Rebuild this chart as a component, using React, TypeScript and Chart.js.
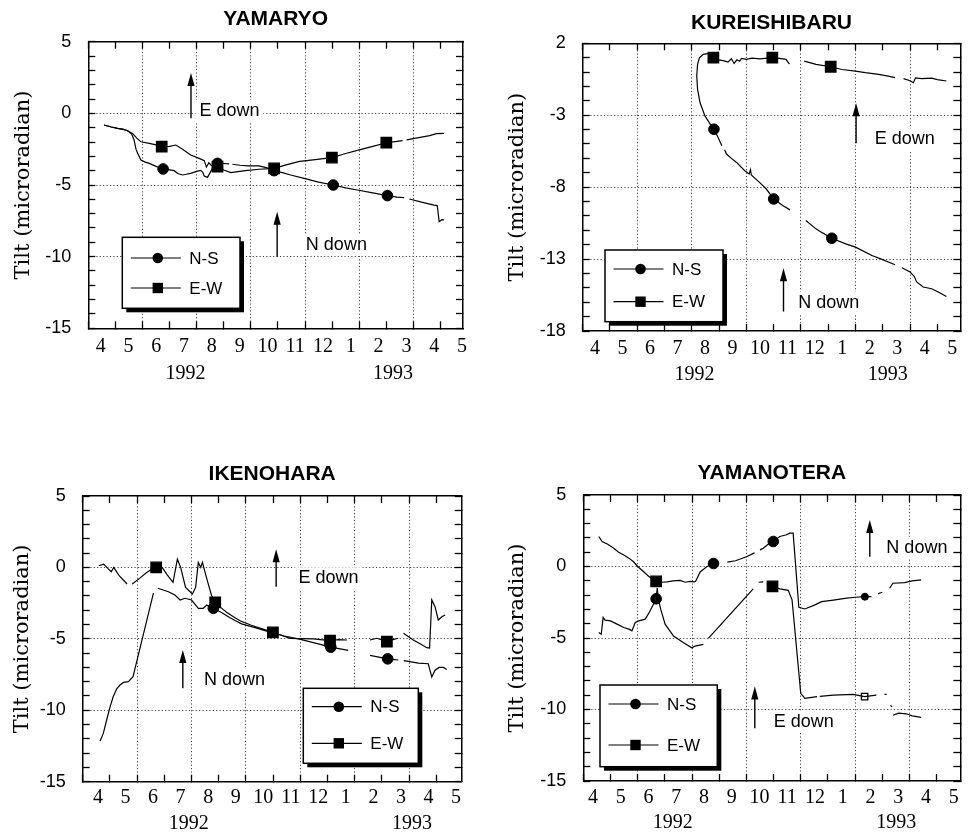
import React, { useEffect, useRef } from 'react';
import { Chart, registerables } from 'chart.js';

Chart.register(...registerables);

type Pt = [number, number] | null;

// x axis: months counted from 1 April 1992 ; y axis: tilt in microradian ; null = gap in record
const MONTH_LABELS = ['4', '5', '6', '7', '8', '9', '10', '11', '12', '1', '2', '3', '4', '5'];
const MONTH_TICKS = [0, 1, 2, 3, 4, 5, 6, 7, 8, 9, 10, 11, 12, 13];
const YEAR_LABELS = ['1992', '1993'];
const SERIES = ['N-S', 'E-W'];
const Y_TITLE = 'Tilt (microradian)';

const YAMARYO_NS: Pt[] = [
  [0.58, -0.81], [0.85, -0.95], [1.08, -1.05], [1.3, -1.12], [1.45, -1.21], [1.6, -1.45], [1.69, -1.86], [1.76, -2.5],
  [1.82, -2.79], [1.94, -3.26], [2.1, -3.4], [2.25, -3.49], [2.5, -3.7], [2.76, -3.88], [3.0, -3.95], [3.17, -4.0],
  [3.3, -4.2], [3.48, -4.3], [3.62, -4.25], [3.78, -4.19], [4.0, -4.05], [4.15, -3.98], [4.22, -4.1], [4.28, -4.37],
  [4.4, -4.47], [4.52, -4.05], [4.65, -3.6], [4.77, -3.49], [5.0, -3.5], [5.2, -3.53], null, [5.32, -3.55], [5.6, -3.62],
  [5.9, -3.67], [6.3, -3.67], [6.6, -3.8], [6.86, -4.0], [7.2, -4.15], [7.47, -4.3], [8.0, -4.55], [8.5, -4.8],
  [9.04, -5.0], [9.5, -5.2], [9.93, -5.35], [10.5, -5.55], [11.04, -5.74], [11.4, -5.85], [11.66, -5.88], null,
  [11.85, -5.98], [12.3, -6.2], [12.76, -6.4], [12.88, -6.44], [12.95, -7.56], [13.05, -7.42], [13.13, -7.44],
];
const YAMARYO_EW: Pt[] = [
  [0.58, -0.81], [0.85, -0.95], [1.08, -1.05], [1.3, -1.12], [1.45, -1.21], [1.63, -1.4], [1.8, -1.75], [1.94, -1.98],
  [2.25, -2.09], [2.5, -2.2], [2.71, -2.33], [3.0, -2.3], [3.23, -2.21], [3.48, -2.51], [3.78, -2.91], [4.09, -3.14],
  [4.28, -3.3], [4.36, -3.75], [4.45, -3.45], [4.55, -3.65], [4.65, -3.7], [4.77, -3.72], [5.0, -3.95], [5.26, -4.14],
  [5.8, -4.0], [6.3, -3.9], [6.86, -3.84], [7.3, -3.6], [7.8, -3.35], [8.3, -3.25], [8.99, -3.09], [9.5, -2.8],
  [10.0, -2.55], [10.5, -2.3], [11.0, -2.05], [11.4, -1.95], [11.6, -1.9], null, [11.75, -1.85], [12.2, -1.7],
  [12.6, -1.55], [12.85, -1.42], [13.13, -1.4],
];
const YAMARYO_NS_MARKS: Pt[] = [[2.76, -3.88], [4.77, -3.49], [6.86, -4.0], [9.04, -5.0], [11.04, -5.74]];
const YAMARYO_EW_MARKS: Pt[] = [[2.71, -2.33], [4.77, -3.72], [6.86, -3.84], [8.99, -3.09], [11.0, -2.05]];

const KUREISHIBARU_NS: Pt[] = [
  [4.64, 1.3], [4.42, 1.23], [4.28, 1.0], [4.21, 0.53], [4.18, -0.27], [4.21, -1.2], [4.3, -2.12], [4.48, -3.05],
  [4.65, -3.55], [4.81, -3.97], [4.95, -4.5], [5.1, -5.12], null, [5.2, -5.4], [5.27, -5.7], [5.45, -6.0], [5.64, -6.28],
  [5.94, -6.86], [6.1, -7.09], [6.15, -6.79], [6.18, -7.16], [6.48, -7.67], [6.73, -8.13], [7.0, -8.82], [7.33, -9.28],
  [7.6, -9.58], null, [8.18, -10.32], [8.55, -10.9], [8.79, -11.18], [9.13, -11.55], [9.64, -11.94], [10.0, -12.17],
  [10.6, -12.75], [10.97, -13.02], [11.45, -13.39], null, [11.7, -13.6], [12.0, -13.9], [12.15, -14.2], [12.24, -14.59],
  [12.48, -14.94], [12.79, -15.06], [13.05, -15.3], [13.33, -15.6],
];
const KUREISHIBARU_EW: Pt[] = [
  [4.67, 1.0], [4.79, 1.0], [4.97, 0.85], [5.15, 0.8], [5.33, 0.7], [5.45, 0.93], [5.55, 0.6], [5.65, 0.85], [5.75, 0.75],
  [5.82, 0.95], [6.0, 0.88], [6.2, 0.97], [6.5, 0.92], [6.95, 1.0], [7.09, 0.99], [7.45, 0.88], [7.58, 0.55], null,
  [8.12, 0.76], [8.55, 0.53], [9.09, 0.37], [9.5, 0.18], [10.0, 0.07], [10.36, -0.04], [10.85, -0.16], [11.2, -0.28],
  [11.45, -0.39], null, [11.76, -0.46], [12.0, -0.6], [12.12, -0.74], [12.2, -0.4], [12.42, -0.46], [12.79, -0.42],
  [13.0, -0.52], [13.33, -0.62],
];
const KUREISHIBARU_NS_MARKS: Pt[] = [[4.81, -3.97], [7.0, -8.82], [9.13, -11.55]];
const KUREISHIBARU_EW_MARKS: Pt[] = [[4.79, 1.0], [6.95, 1.0], [9.09, 0.37]];

const IKENOHARA_NS: Pt[] = [
  [0.64, -12.15], [0.76, -11.6], [0.88, -10.68], [1.0, -9.8], [1.12, -9.05], [1.25, -8.5], [1.37, -8.23], [1.5, -8.05],
  [1.68, -8.0], [1.85, -7.65], [2.6, -1.8], null, [2.76, -1.46], [3.15, -1.7], [3.39, -1.93], [3.58, -2.28], [3.76, -2.16],
  [4.0, -2.28], [4.25, -2.86], [4.43, -2.86], [4.56, -2.63], [4.7, -2.8], [4.8, -2.86], [5.1, -3.15], [5.4, -3.5],
  [5.6, -3.72], [5.84, -3.95], [6.3, -4.2], [6.89, -4.53], [7.4, -4.8], [7.93, -5.0], [8.66, -5.35], [9.12, -5.58],
  [9.76, -5.81], null, [10.56, -6.16], [11.21, -6.4], [11.6, -6.48], null, [11.8, -6.52], [12.34, -6.7], [12.7, -6.74],
  [12.83, -7.67], [12.95, -7.2], [13.1, -7.0], [13.26, -7.0], [13.38, -7.14],
];
const IKENOHARA_EW: Pt[] = [
  [0.59, 0.12], [0.77, 0.23], [0.95, -0.12], [1.05, -0.3], [1.14, 0.0], [1.26, -0.35], [1.35, -0.6], [1.5, -0.9],
  [1.63, -1.16], null, [1.82, -1.16], [2.1, -0.75], [2.35, -0.35], [2.55, -0.12], [2.7, 0.0], [2.92, 0.0], [3.1, -0.5],
  [3.32, -1.05], [3.48, 0.58], [3.6, 0.0], [3.78, -1.4], [4.03, -1.86], [4.15, -1.4], [4.25, 0.35], [4.34, 0.0],
  [4.4, 0.35], [4.58, -0.93], [4.74, -1.98], [4.87, -2.44], [5.1, -2.85], [5.3, -3.15], [5.54, -3.45], [5.8, -3.75],
  [6.2, -4.05], [6.6, -4.3], [6.99, -4.55], [7.3, -4.75], [7.62, -4.96], [8.0, -4.98], [8.48, -5.0], [9.09, -5.13],
  [9.4, -5.05], [9.71, -5.08], null, [10.56, -5.08], [10.81, -4.96], [11.18, -5.2], [11.4, -5.05], [11.6, -4.96], null,
  [11.79, -4.61], [12.15, -5.08], [12.4, -5.35], [12.65, -5.62], [12.75, -5.65], [12.83, -2.28], [12.95, -2.75],
  [13.07, -3.68], [13.2, -3.45], [13.32, -3.33],
];
const IKENOHARA_NS_MARKS: Pt[] = [[4.8, -2.86], [9.12, -5.58], [11.21, -6.4]];
const IKENOHARA_EW_MARKS: Pt[] = [[2.7, 0.0], [4.87, -2.44], [6.99, -4.55], [9.09, -5.13], [11.18, -5.2]];

const YAMANOTERA_NS: Pt[] = [
  [0.57, -4.62], [0.66, -4.74], [0.73, -3.56], [0.8, -3.75], [1.0, -3.8], [1.24, -4.03], [1.49, -4.27], [1.7, -4.4],
  [1.79, -4.5], [1.91, -3.92], [2.04, -3.8], [2.28, -3.68], [2.46, -3.09], [2.68, -2.26], [2.72, -1.5], [2.76, -2.3],
  [2.85, -3.0], [3.01, -4.03], [3.32, -4.86], [3.69, -5.33], [3.99, -5.68], [4.11, -5.57], [4.42, -5.45], null,
  [4.11, -1.08], [4.15, -0.97], [4.3, -0.38], [4.54, -0.02], [4.79, 0.21], [4.95, 0.26], null, [5.3, 0.3], [5.6, 0.4],
  [6.0, 0.68], [6.3, 0.95], null, [6.5, 1.16], [6.62, 1.27], [6.8, 1.55], [6.99, 1.75], [7.23, 2.1], [7.45, 2.2],
  [7.6, 2.33], [7.72, 2.33], [7.93, -2.85], [8.15, -2.97], [8.5, -2.7], [8.77, -2.46], [9.2, -2.35], [9.63, -2.23],
  [10.0, -2.15], [10.36, -2.11], [10.6, -2.11], null, [10.85, -1.9], [11.0, -1.8], null, [11.27, -1.52], [11.39, -1.17],
  [11.82, -1.13], [12.1, -1.0], [12.43, -0.94],
];
const YAMANOTERA_EW: Pt[] = [
  [0.57, 2.1], [0.69, 1.75], [0.9, 1.55], [1.12, 1.27], [1.3, 1.0], [1.49, 0.8], [1.7, 0.55], [1.85, 0.33], [2.0, 0.0],
  [2.16, -0.26], [2.4, -0.68], [2.68, -1.04], [2.9, -1.1], [3.08, -1.08], [3.3, -1.0], [3.56, -0.97], [3.75, -1.1],
  [3.93, -1.04], [4.11, -1.08], null, [4.6, -5.02], [6.25, -1.56], null, [6.45, -1.1], [6.62, -1.08], null, [6.75, -1.2],
  [6.96, -1.39], [7.23, -1.56], [7.54, -1.67], [7.68, -2.33], [8.0, -8.87], [8.15, -9.22], [8.6, -9.1], null,
  [8.7, -9.08], [9.2, -9.0], [9.92, -8.94], [10.35, -9.1], [10.78, -8.99], null, [11.08, -8.94], [11.16, -8.94], null,
  [11.3, -9.72], [11.36, -9.8], null, [11.39, -10.4], [11.6, -10.25], [11.88, -10.3], [12.1, -10.45], [12.43, -10.55],
];
const YAMANOTERA_NS_MARKS: Pt[] = [[2.68, -2.26], [4.79, 0.21], [6.99, 1.75], [10.36, -2.11]];
const YAMANOTERA_EW_MARKS: Pt[] = [[2.68, -1.04], [6.96, -1.39], [10.35, -9.1]];

const SANS = '"Liberation Sans", Arial, sans-serif';
const SERIF = '"Liberation Serif", "Times New Roman", serif';
const TITLE_SERIF = '"DejaVu Serif", serif';
const GRID = '#444';
const TICK_LEN = -7;

type Note = { text: string; arrowX: number; tail: number; tip: number; textX: number; textY: number };

const PLOTS = [
  {
    title: 'YAMARYO', cx: 0, cy: 0, cw: 484, ch: 418, left: 88.3, padRight: 21, titlePad: { top: 6.2, bottom: 10.3 },
    yMin: -15, yMax: 5, xMax: 13.83, labelMin: -0.446, labelMax: 13.036, monthPad: 6.5, monthH: 27, yearPad: 6.5,
    yearH: 62.7, yearPos: [3.59, 11.25], yTitlePad: 11.4,
    ns: YAMARYO_NS, ew: YAMARYO_EW, nsMarks: YAMARYO_NS_MARKS, ewMarks: YAMARYO_EW_MARKS, smallNs: [] as number[], smallEw: [] as number[],
    legend: { dx: 34, dy: 195.6, w: 117.7, h: 71, rows: [20.7, 50.7] },
    notes: [
      { text: 'E down', arrowX: 3.79, tail: -0.35, tip: 2.82, textX: 4.1, textY: 0.16 },
      { text: 'N down', arrowX: 6.97, tail: -10.0, tip: -6.86, textX: 8.03, textY: -9.19 },
    ] as Note[],
  },
  {
    title: 'KUREISHIBARU', cx: 484, cy: 0, cw: 485, ch: 418, left: 98.7, padRight: 6, titlePad: { top: 10.7, bottom: 7.4 },
    yMin: -18, yMax: 2, xMax: 13.84, labelMin: -0.444, labelMax: 13.289, monthPad: 5.3, monthH: 27, yearPad: 4.8,
    yearH: 60, yearPos: [4.1, 11.18], yTitlePad: 20.9,
    ns: KUREISHIBARU_NS, ew: KUREISHIBARU_EW, nsMarks: KUREISHIBARU_NS_MARKS, ewMarks: KUREISHIBARU_EW_MARKS, smallNs: [], smallEw: [],
    legend: { dx: 22.3, dy: 206.7, w: 118, h: 71.7, rows: [19, 51.7] },
    notes: [
      { text: 'E down', arrowX: 10.02, tail: -4.95, tip: -2.17, textX: 10.7, textY: -4.67 },
      { text: 'N down', arrowX: 7.36, tail: -16.65, tip: -13.64, textX: 7.9, textY: -16.03 },
    ],
  },
  {
    title: 'IKENOHARA', cx: 0, cy: 418, cw: 484, ch: 418, left: 82.7, padRight: 22.3, titlePad: { top: 44.1, bottom: 8.7 },
    yMin: -15, yMax: 5, xMax: 13.93, labelMin: -0.556, labelMax: 13.207, monthPad: 4.3, monthH: 27, yearPad: 2.6,
    yearH: 27.3, yearPos: [3.9, 12.1], yTitlePad: 10.1,
    ns: IKENOHARA_NS, ew: IKENOHARA_EW, nsMarks: IKENOHARA_NS_MARKS, ewMarks: IKENOHARA_EW_MARKS, smallNs: [], smallEw: [],
    legend: { dx: 220.6, dy: 192.3, w: 115, h: 75, rows: [18.4, 55] },
    notes: [
      { text: 'E down', arrowX: 7.11, tail: -1.35, tip: 1.27, textX: 7.93, textY: -0.76 },
      { text: 'N down', arrowX: 3.68, tail: -8.46, tip: -5.78, textX: 4.46, textY: -7.88 },
    ],
  },
  {
    title: 'YAMANOTERA', cx: 484, cy: 418, cw: 485, ch: 418, left: 99.3, padRight: 6.3, titlePad: { top: 42.7, bottom: 9.1 },
    yMin: -15, yMax: 5, xMax: 13.87, labelMin: -0.347, labelMax: 13.24, monthPad: 5, monthH: 27, yearPad: 2.8,
    yearH: 28, yearPos: [3.29, 11.51], yTitlePad: 21.4,
    ns: YAMANOTERA_NS, ew: YAMANOTERA_EW, nsMarks: YAMANOTERA_NS_MARKS, ewMarks: YAMANOTERA_EW_MARKS, smallNs: [3], smallEw: [2],
    legend: { dx: 16.7, dy: 190, w: 117.3, h: 81.7, rows: [19, 60] },
    notes: [
      { text: 'N down', arrowX: 10.54, tail: 0.69, tip: 3.25, textX: 11.15, textY: 1.31 },
      { text: 'E down', arrowX: 6.31, tail: -11.31, tip: -8.4, textX: 7.01, textY: -10.85 },
    ],
  },
];

type PlotCfg = (typeof PLOTS)[number];

function toXY(arr: Pt[]) {
  const out: { x: number; y: number | null }[] = [];
  let lastX = 0;
  for (const p of arr) {
    if (p) { out.push({ x: p[0], y: p[1] }); lastX = p[0]; }
    else out.push({ x: lastX, y: null });
  }
  return out;
}

function drawMarker(ctx: CanvasRenderingContext2D, kind: 'circle' | 'rect', x: number, y: number) {
  ctx.fillStyle = '#000';
  if (kind === 'circle') {
    ctx.beginPath(); ctx.arc(x, y, 5.3, 0, Math.PI * 2); ctx.fill();
  } else {
    ctx.fillRect(x - 5.2, y - 5.2, 10.4, 10.4);
  }
}

function makeDecor(p: PlotCfg) {
  return {
    id: 'decor',
    beforeDatasetsDraw(chart: any) {
      const { ctx } = chart;
      const xs = chart.scales.x, ys = chart.scales.y;
      ctx.save();
      ctx.font = `18px ${SANS}`;
      ctx.textBaseline = 'middle';
      ctx.textAlign = 'left';
      for (const n of p.notes) {
        const tx = xs.getPixelForValue(n.textX), ty = ys.getPixelForValue(n.textY);
        const w = ctx.measureText(n.text).width;
        ctx.fillStyle = '#fff';
        ctx.fillRect(tx - 4, ty - 11, w + 8, 22);
        ctx.fillStyle = '#000';
        ctx.fillText(n.text, tx, ty);
        const ax = xs.getPixelForValue(n.arrowX);
        const a1 = ys.getPixelForValue(n.tail), a2 = ys.getPixelForValue(n.tip);
        ctx.strokeStyle = '#000';
        ctx.lineWidth = 1.4;
        ctx.beginPath(); ctx.moveTo(ax, a1); ctx.lineTo(ax, a2 + 8); ctx.stroke();
        ctx.beginPath(); ctx.moveTo(ax, a2); ctx.lineTo(ax - 3.6, a2 + 13); ctx.lineTo(ax + 3.6, a2 + 13); ctx.closePath(); ctx.fill();
      }
      ctx.restore();
    },
    afterDatasetsDraw(chart: any) {
      const { ctx, chartArea } = chart;
      const L = p.legend;
      const bx = chartArea.left + L.dx, by = chartArea.top + L.dy;
      ctx.save();
      ctx.fillStyle = '#000';
      ctx.fillRect(bx + 4, by + 4, L.w, L.h);
      ctx.fillStyle = '#fff';
      ctx.fillRect(bx, by, L.w, L.h);
      ctx.strokeStyle = '#000';
      ctx.lineWidth = 1.5;
      ctx.strokeRect(bx, by, L.w, L.h);
      ctx.font = `17px ${SANS}`;
      ctx.textBaseline = 'middle';
      ctx.textAlign = 'left';
      SERIES.forEach((name, i) => {
        const ry = by + L.rows[i];
        ctx.lineWidth = 1.2;
        ctx.beginPath(); ctx.moveTo(bx + 8.5, ry); ctx.lineTo(bx + 58.5, ry); ctx.stroke();
        drawMarker(ctx, i === 0 ? 'circle' : 'rect', bx + 35.5, ry);
        ctx.fillStyle = '#000';
        ctx.fillText(name, bx + 67, ry + 1);
      });
      ctx.restore();
    },
  };
}

function buildConfig(p: PlotCfg) {
  const yTicks: number[] = [];
  for (let v = p.yMin; v <= p.yMax; v++) yTicks.push(v);
  const clear = 'rgba(0,0,0,0)';
  const lineDs = (label: string, pts: Pt[]) => ({
    label, data: toXY(pts), borderColor: '#000', borderWidth: 1.2, pointRadius: 0, tension: 0,
    spanGaps: false, fill: false, xAxisID: 'x', yAxisID: 'y',
  });
  return {
    type: 'line',
    data: {
      datasets: [
        lineDs(SERIES[0], p.ns),
        lineDs(SERIES[1], p.ew),
        {
          label: SERIES[0] + ' markers', data: toXY(p.nsMarks), showLine: false, pointStyle: 'circle',
          pointRadius: (c: any) => (p.smallNs.includes(c.dataIndex) ? 3.5 : 5.3),
          pointBackgroundColor: '#000', pointBorderColor: '#000', pointBorderWidth: 1, xAxisID: 'x', yAxisID: 'y',
        },
        {
          label: SERIES[1] + ' markers', data: toXY(p.ewMarks), showLine: false, pointStyle: 'rect',
          pointRadius: (c: any) => (p.smallEw.includes(c.dataIndex) ? 4.5 : 7.4),
          pointBackgroundColor: (c: any) => (p.smallEw.includes(c.dataIndex) ? '#fff' : '#000'),
          pointBorderColor: '#000', pointBorderWidth: 1.3, xAxisID: 'x', yAxisID: 'y',
        },
      ],
    },
    options: {
      responsive: false, animation: false, devicePixelRatio: 1, events: [],
      layout: { padding: { left: 0, top: 0, right: p.padRight, bottom: 0 } },
      plugins: {
        legend: { display: false },
        tooltip: { enabled: false },
        title: {
          display: true, text: p.title, color: '#000', fullSize: false,
          font: { family: SANS, size: 21, weight: 'bold' }, padding: p.titlePad,
        },
      },
      scales: {
        x: {
          type: 'linear', position: 'bottom', weight: 0, min: 0, max: p.xMax,
          afterBuildTicks: (s: any) => { s.ticks = MONTH_TICKS.map((v) => ({ value: v })); },
          ticks: { display: false },
          grid: {
            color: (c: any) => (c.tick && c.tick.value > 0 && c.tick.value % 2 === 0 ? GRID : clear),
            lineWidth: 1, drawTicks: true, tickLength: TICK_LEN, tickColor: '#000', tickWidth: 1.3,
          },
          border: { display: true, color: '#000', width: 1.5, dash: [1.2, 2.2] },
          afterFit: (s: any) => { s.height = 0; },
        },
        xm: {
          type: 'linear', position: 'bottom', weight: 1, min: p.labelMin, max: p.labelMax,
          afterBuildTicks: (s: any) => { s.ticks = MONTH_LABELS.map((_, i) => ({ value: i })); },
          ticks: {
            autoSkip: false, maxRotation: 0, minRotation: 0, color: '#000', padding: p.monthPad,
            font: { family: SERIF, size: 20 },
            callback: (v: number) => MONTH_LABELS[Math.round(v)] ?? '',
          },
          grid: { display: false, drawTicks: false },
          border: { display: false },
          afterFit: (s: any) => { s.height = p.monthH; },
        },
        xy: {
          type: 'linear', position: 'bottom', weight: 2, min: 0, max: p.xMax,
          afterBuildTicks: (s: any) => { s.ticks = p.yearPos.map((v) => ({ value: v })); },
          ticks: {
            autoSkip: false, maxRotation: 0, minRotation: 0, color: '#000', padding: p.yearPad,
            font: { family: SERIF, size: 20 },
            callback: (_v: number, i: number) => YEAR_LABELS[i] ?? '',
          },
          grid: { display: false, drawTicks: false },
          border: { display: false },
          afterFit: (s: any) => { s.height = p.yearH; },
        },
        x2: {
          type: 'linear', position: 'top', min: 0, max: p.xMax,
          afterBuildTicks: (s: any) => { s.ticks = MONTH_TICKS.map((v) => ({ value: v })); },
          ticks: { display: false },
          grid: { drawOnChartArea: false, drawTicks: true, tickLength: TICK_LEN, tickColor: '#000', color: '#000', tickWidth: 1.3 },
          border: { display: true, color: '#000', width: 1.5 },
          afterFit: (s: any) => { s.height = 0; },
        },
        y: {
          type: 'linear', position: 'left', min: p.yMin, max: p.yMax,
          afterBuildTicks: (s: any) => { s.ticks = yTicks.map((v) => ({ value: v })); },
          ticks: {
            autoSkip: false, color: '#000', padding: 24, font: { family: SANS, size: 18 },
            callback: (v: number) => ((v - p.yMin) % 5 === 0 ? String(v) : ''),
          },
          grid: {
            color: (c: any) => {
              const v = c.tick ? c.tick.value : NaN;
              return (v - p.yMin) % 5 === 0 && v !== p.yMin && v !== p.yMax ? GRID : clear;
            },
            lineWidth: 1, drawTicks: true, tickLength: TICK_LEN, tickColor: '#000', tickWidth: 1.3,
          },
          border: { display: true, color: '#000', width: 1.5, dash: [1.2, 2.2] },
          title: {
            display: true, text: Y_TITLE, color: '#000', font: { family: TITLE_SERIF, size: 21 },
            padding: { top: p.yTitlePad, bottom: 0 },
          },
          afterFit: (s: any) => { s.width = p.left; },
        },
        y2: {
          type: 'linear', position: 'right', min: p.yMin, max: p.yMax,
          afterBuildTicks: (s: any) => { s.ticks = yTicks.map((v) => ({ value: v })); },
          ticks: { display: false },
          grid: { drawOnChartArea: false, drawTicks: true, tickLength: TICK_LEN, tickColor: '#000', color: '#000', tickWidth: 1.3 },
          border: { display: true, color: '#000', width: 1.5 },
          afterFit: (s: any) => { s.width = 0; },
        },
      },
    },
    plugins: [makeDecor(p)],
  };
}

function Panel({ p }: { p: PlotCfg }) {
  const ref = useRef<HTMLCanvasElement | null>(null);
  useEffect(() => {
    if (!ref.current) return;
    const chart = new Chart(ref.current, buildConfig(p) as any);
    return () => chart.destroy();
  }, [p]);
  return (
    <canvas
      ref={ref}
      width={p.cw}
      height={p.ch}
      style={{ position: 'absolute', left: p.cx, top: p.cy, width: p.cw, height: p.ch }}
    />
  );
}

export default function App() {
  return (
    <div style={{ position: 'absolute', left: 0, top: 0, width: 969, height: 836, background: '#fff', overflow: 'hidden' }}>
      {PLOTS.map((p) => (
        <Panel key={p.title} p={p} />
      ))}
    </div>
  );
}
